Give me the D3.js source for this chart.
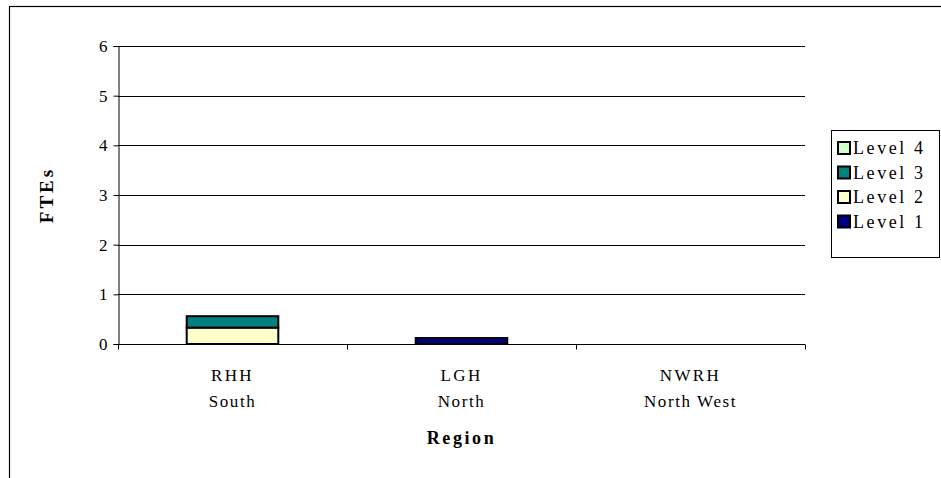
<!DOCTYPE html>
<html>
<head>
<meta charset="utf-8">
<script src="https://cdn.jsdelivr.net/npm/d3@7"></script>
<style>
  html, body { margin: 0; padding: 0; background: #fff; }
  svg { display: block; }
  svg text { font-family: "Liberation Serif", "Times New Roman", serif; fill: #000; }
</style>
</head>
<body>
<svg id="chart" width="941" height="478"></svg>
<script>
// FTEs by hospital and staffing level
const hospitals = ["RHH", "LGH", "NWRH"];
const regions = ["South", "North", "North West"];
const levels = ["Level 1", "Level 2", "Level 3", "Level 4"];
const level1 = [0, 0.12, 0];
const level2 = [0.33, 0, 0];
const level3 = [0.23, 0, 0];
const level4 = [0, 0, 0];
const yTicks = [0, 1, 2, 3, 4, 5, 6];
const colors = ["#000080", "#FFFFCC", "#008080", "#CCFFCC"];
const SERIF = "Liberation Serif";

const rows = hospitals.map((h, i) => ({
  hospital: h,
  "Level 1": level1[i],
  "Level 2": level2[i],
  "Level 3": level3[i],
  "Level 4": level4[i]
}));

const svg = d3.select("#chart");
const m = { left: 118, right: 805, top: 46, bottom: 344 };

// outer chart frame
svg.append("rect")
  .attr("x", 9.5).attr("y", 6.5)
  .attr("width", 1000).attr("height", 1000)
  .attr("fill", "none").attr("stroke", "#000").attr("stroke-width", 1.2);

const x = d3.scaleBand().domain(hospitals).range([m.left, m.right]).paddingInner(0).paddingOuter(0);
const y = d3.scaleLinear().domain([0, 6]).range([m.bottom, m.top]);

// gridlines
svg.append("g").selectAll("line").data(yTicks.filter(t => t > 0)).join("line")
  .attr("x1", m.left).attr("x2", m.right)
  .attr("y1", d => Math.round(y(d)) + 0.5).attr("y2", d => Math.round(y(d)) + 0.5)
  .attr("stroke", "#000").attr("stroke-width", 1);

// y axis
const yAxis = svg.append("g")
  .attr("transform", `translate(${m.left + 0.5},0)`)
  .call(d3.axisLeft(y).tickValues(yTicks).tickSize(5).tickPadding(6).tickFormat(d3.format("d")))
  .attr("font-family", SERIF).attr("font-size", 17);
yAxis.select(".domain").attr("stroke", "#000");
yAxis.selectAll(".tick line").attr("stroke", "#000");
yAxis.selectAll("text").attr("font-family", SERIF).attr("font-size", 17).attr("fill", "#000");

// stacked bars
const stack = d3.stack().keys(levels);
const series = stack(rows);
const barW = x.bandwidth() * 0.4;
series.forEach((s, si) => {
  svg.append("g").selectAll("rect")
    .data(s.filter(d => d[1] - d[0] > 0))
    .join("rect")
    .attr("x", d => x(d.data.hospital) + (x.bandwidth() - barW) / 2)
    .attr("width", barW)
    .attr("y", d => y(d[1]))
    .attr("height", d => y(d[0]) - y(d[1]))
    .attr("fill", colors[si])
    .attr("stroke", "#000").attr("stroke-width", 2);
});

// x axis
const xAxis = svg.append("g").attr("transform", `translate(0,${m.bottom + 0.5})`);
xAxis.append("line").attr("x1", m.left).attr("x2", m.right).attr("stroke", "#000");
const ticks = [0, 1, 2, 3].map(i => m.left + i * x.bandwidth());
xAxis.selectAll(".t").data(ticks).join("line")
  .attr("x1", d => Math.round(d) + 0.5).attr("x2", d => Math.round(d) + 0.5)
  .attr("y1", 0).attr("y2", 5).attr("stroke", "#000");

const lab = svg.append("g").attr("font-family", SERIF);
hospitals.forEach((h, i) => {
  const cx = x(h) + x.bandwidth() / 2;
  lab.append("text").attr("x", cx).attr("y", 381)
    .attr("text-anchor", "middle").attr("font-family", SERIF).attr("font-size", 17).attr("letter-spacing", 2.4)
    .text(h);
  lab.append("text").attr("x", cx).attr("y", 407)
    .attr("text-anchor", "middle").attr("font-family", SERIF).attr("font-size", 17).attr("letter-spacing", 1.6)
    .text(regions[i]);
});

// axis titles
svg.append("text").attr("x", (m.left + m.right) / 2).attr("y", 444)
  .attr("text-anchor", "middle").attr("font-family", SERIF).attr("font-size", 18).attr("font-weight", "bold")
  .attr("letter-spacing", 2.6).text("Region");
svg.append("text")
  .attr("transform", `translate(53,${(m.top + m.bottom) / 2}) rotate(-90)`)
  .attr("text-anchor", "middle").attr("font-family", SERIF).attr("font-size", 19).attr("font-weight", "bold")
  .attr("letter-spacing", 3)
  .text("FTEs");

// legend (top entry is Level 4)
const lg = svg.append("g");
lg.append("rect").attr("x", 831.5).attr("y", 130.5).attr("width", 108).attr("height", 127)
  .attr("fill", "#fff").attr("stroke", "#000").attr("stroke-width", 1);
const legendOrder = levels.slice().reverse();
legendOrder.forEach((lv, i) => {
  const yy = 148 + i * 24.5;
  lg.append("rect").attr("x", 838).attr("y", yy - 6).attr("width", 12).attr("height", 12)
    .attr("fill", colors[levels.indexOf(lv)]).attr("stroke", "#000").attr("stroke-width", 2);
  lg.append("text").attr("x", 853).attr("y", yy + 6).attr("font-family", SERIF).attr("font-size", 18)
    .attr("letter-spacing", 2.6).text(lv);
});
</script>
</body>
</html>
